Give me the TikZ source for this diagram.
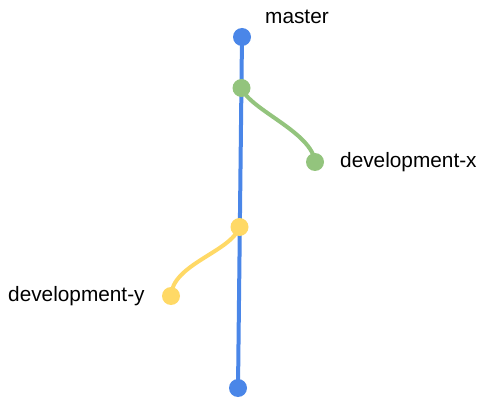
\documentclass[tikz,border=0pt]{standalone}
\usepackage{fontspec}
\setmainfont{Liberation Sans}
\usetikzlibrary{backgrounds}
\definecolor{gblue}{HTML}{4A86E8}
\definecolor{ggreen}{HTML}{93C47D}
\definecolor{gyellow}{HTML}{FFD966}
\begin{document}
\begin{tikzpicture}[x=1pt,y=-1pt,
  commit/.style={circle,inner sep=0pt,minimum size=18pt},
  lbl/.style={inner sep=0pt,font=\fontsize{20.8}{24}\selectfont},
  branchline/.style={line width=4pt}]
\useasboundingbox (0,0) rectangle (490,414);
\node[commit,fill=gblue] (m1) at (242,37) {};
\node[commit,fill=ggreen] (m2) at (241.5,88) {};
\node[commit,fill=gyellow] (m3) at (239.5,227) {};
\node[commit,fill=gblue] (m4) at (238,388) {};
\node[commit,fill=ggreen] (x1) at (315,162) {};
\node[commit,fill=gyellow] (y1) at (171,296) {};
\begin{scope}[on background layer]
\draw[branchline,gblue] (m1.center) -- (m4.center);
\draw[branchline,ggreen] (m2.center) .. controls (250,110) and (312,132) .. (x1.center);
\draw[branchline,gyellow] (m3.center) .. controls (231,252) and (172,264) .. (y1.center);
\end{scope}
\node[lbl,anchor=west] (lm) at (265,17) {master};
\node[lbl,anchor=west] (lx) at (340,162) {development-x};
\node[lbl,anchor=west] (ly) at (8,296) {development-y};
\end{tikzpicture}
\end{document}
